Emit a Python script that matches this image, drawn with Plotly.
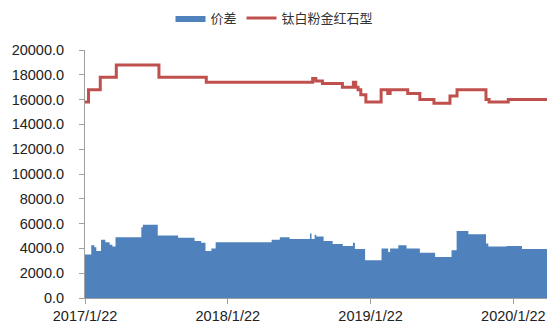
import plotly.graph_objects as go

# 钛白粉金红石型 price (step series)
price_dates = ["2017-01-22", "2017-01-31", "2017-03-02", "2017-04-12", "2017-07-30",
               "2017-11-28", "2018-08-27", "2018-09-04", "2018-09-21", "2018-11-11",
               "2018-12-09", "2018-12-15", "2018-12-21", "2018-12-28", "2019-01-10",
               "2019-02-18", "2019-03-07", "2019-03-13", "2019-04-27", "2019-05-28",
               "2019-07-03", "2019-08-13", "2019-08-31", "2019-11-13", "2019-11-21",
               "2020-01-09", "2020-04-17"]
price_vals = [15800, 16800, 17800, 18800, 17800,
              17400, 17700, 17500, 17300, 17000,
              17400, 17000, 16800, 16400, 15800,
              16800, 16500, 16800, 16500, 16000,
              15700, 16300, 16800, 16000, 15800,
              16000, 16000]

# 价差 spread (step series)
spread_dates = ["2017-01-22", "2017-02-07", "2017-02-15", "2017-02-20", "2017-03-04",
                "2017-03-15", "2017-03-26", "2017-04-02", "2017-04-10", "2017-06-15",
                "2017-06-19", "2017-07-27", "2017-09-17", "2017-10-29", "2017-11-15",
                "2017-11-26", "2017-12-11", "2017-12-22", "2018-05-14", "2018-06-04",
                "2018-06-29", "2018-08-20", "2018-08-24", "2018-09-01", "2018-09-05",
                "2018-09-24", "2018-10-17", "2018-11-12", "2018-12-08", "2018-12-13",
                "2019-01-08", "2019-02-19", "2019-03-08", "2019-03-13", "2019-04-03",
                "2019-04-24", "2019-05-28", "2019-07-06", "2019-08-17", "2019-08-30",
                "2019-09-29", "2019-11-13", "2019-11-19", "2020-01-05", "2020-02-13",
                "2020-04-17"]
spread_vals = [3500, 4250, 4100, 3800, 4700,
               4500, 4300, 4150, 4900, 5700,
               5900, 5050, 4850, 4600, 4450,
               3800, 4000, 4500, 4700, 4900,
               4750, 5200, 4750, 5100, 4950,
               4600, 4350, 4200, 4450, 3950,
               3050, 4000, 3700, 4000, 4250,
               4000, 3650, 3300, 3850, 5400,
               5150, 4400, 4150, 4200, 3950,
               3950]

tick_dates = ["2017-01-22", "2018-01-22", "2019-01-22", "2020-01-22"]
tick_labels = ["2017/1/22", "2018/1/22", "2019/1/22", "2020/1/22"]
y_ticks = [0, 2000, 4000, 6000, 8000, 10000, 12000, 14000, 16000, 18000, 20000]

fig = go.Figure()
fig.add_trace(go.Scatter(
    x=spread_dates, y=spread_vals, name="价差", mode="lines",
    line=dict(shape="hv", width=0, color="#4F81BD"),
    fill="tozeroy", fillcolor="#4F81BD",
))
fig.add_trace(go.Scatter(
    x=price_dates, y=price_vals, name="钛白粉金红石型", mode="lines",
    line=dict(shape="hv", width=3, color="#C0504D"),
))

fig.update_layout(
    width=549, height=326,
    margin=dict(l=85, r=2, t=50, b=28, autoexpand=False),
    paper_bgcolor="white", plot_bgcolor="white",
    font=dict(family="Liberation Sans, Arial, sans-serif", size=14.5, color="#222"),
    showlegend=True,
    legend=dict(orientation="h", x=0.5, xanchor="center", xref="container",
                y=0.945, yanchor="middle", yref="container",
                font=dict(family="Noto Sans CJK SC", size=13, color="#333"),
                traceorder="normal", itemwidth=30),
)
fig.update_xaxes(
    type="date", range=["2017-01-22", "2020-04-17"],
    tickvals=tick_dates, ticktext=tick_labels,
    showgrid=False, showline=True, linecolor="#A0A0A0", linewidth=1,
    ticks="outside", ticklen=5, tickcolor="#A0A0A0",
    tickfont=dict(size=14.5, color="#222"),
)
fig.update_yaxes(
    range=[0, 20000], tickvals=y_ticks,
    ticktext=[f"{v:.1f}" for v in y_ticks],
    showgrid=False, showline=True, linecolor="#A0A0A0", linewidth=1,
    ticks="outside", ticklen=5, tickcolor="#A0A0A0",
    ticklabelstandoff=12,
    tickfont=dict(size=14.5, color="#222"), zeroline=False,
)

fig.write_html("out.html")
